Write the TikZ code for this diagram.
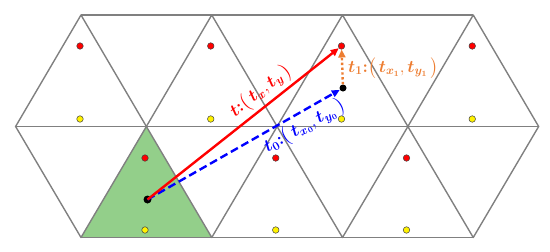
\documentclass[tikz,border=0pt]{standalone}
\usepackage{amsmath}
\usepackage{bm}
\usepackage{tikz}
\usetikzlibrary{arrows.meta,positioning}
\definecolor{gridgray}{RGB}{128,128,128}
\definecolor{cellgreen}{RGB}{147,207,138}
\definecolor{corange}{RGB}{237,125,49}

\begin{document}
\begin{tikzpicture}[
  x=1pt, y=-1pt,
  grid/.style={draw=gridgray, line width=1.4pt, line join=round},
  ctr/.style={circle, draw=black!75, line width=0.5pt, inner sep=0pt, minimum size=6.5pt},
  reddot/.style={ctr, fill=red},
  ylwdot/.style={ctr, fill=yellow},
  blkdot/.style={circle, fill=black, inner sep=0pt, minimum size=8pt},
  lbl/.style={font=\fontsize{17}{19}\selectfont, inner sep=3pt},
  arr/.style={-{Triangle[length=8pt,width=7pt]}, line width=2.4pt}
]
\useasboundingbox (0,0) rectangle (550,252);
% occupied cell
\fill[cellgreen] (146,126.5) -- (81,237.5) -- (211.5,237.5) -- cycle;
% triangular grid
\foreach \k in {0,...,3} {
  \pgfmathsetmacro\xa{81+130.75*\k}
  \draw[grid] (\xa-65.4,126.5) -- (\xa,15) -- (\xa+65.4,126.5) -- (\xa,237.5) -- cycle;
}
\draw[grid] (81,15) -- (473,15);
\draw[grid] (15.5,126.5) -- (539,126.5);
\draw[grid] (81,237.5) -- (473,237.5);
% cell centres
\foreach \k in {0,...,3} {
  \node[reddot] (tr\k) at (80+130.75*\k,46) {};
  \node[ylwdot] (ty\k) at (80+130.75*\k,119) {};
}
\foreach \k in {0,...,2} {
  \node[reddot] (br\k) at (145+130.75*\k,158) {};
  \node[ylwdot] (by\k) at (145+130.75*\k,230) {};
}
\node[blkdot] (src) at (147.5,199.5) {};
\node[blkdot, minimum size=7pt] (mid) at (343,88) {};
% translations
\draw[arr, blue, dash pattern=on 8pt off 4pt] (src.center) -- node[lbl, sloped, below, pos=0.78] (t0lab)
  {$\bm{t_0}\mathord{\bm{:}}\bigl(\,\bm{t_{x_0}},\bm{t_{y_0}}\,\bigr)$} (mid);
\draw[arr, red] (src.center) -- node[lbl, sloped, above, pos=0.64] (tlab)
  {$\bm{t}\mathord{\bm{:}}\bigl(\,\bm{t_x},\bm{t_y}\,\bigr)$} (tr2);
\draw[arr, corange, dash pattern=on 2.4pt off 2.4pt] (mid) -- (tr2);
\node[lbl, text=corange, anchor=west] (t1lab) at (345,68)
  {$\bm{t_1}\mathord{\bm{:}}\bigl(\,\bm{t_{x_1}},\bm{t_{y_1}}\,\bigr)$};
\end{tikzpicture}
\end{document}
